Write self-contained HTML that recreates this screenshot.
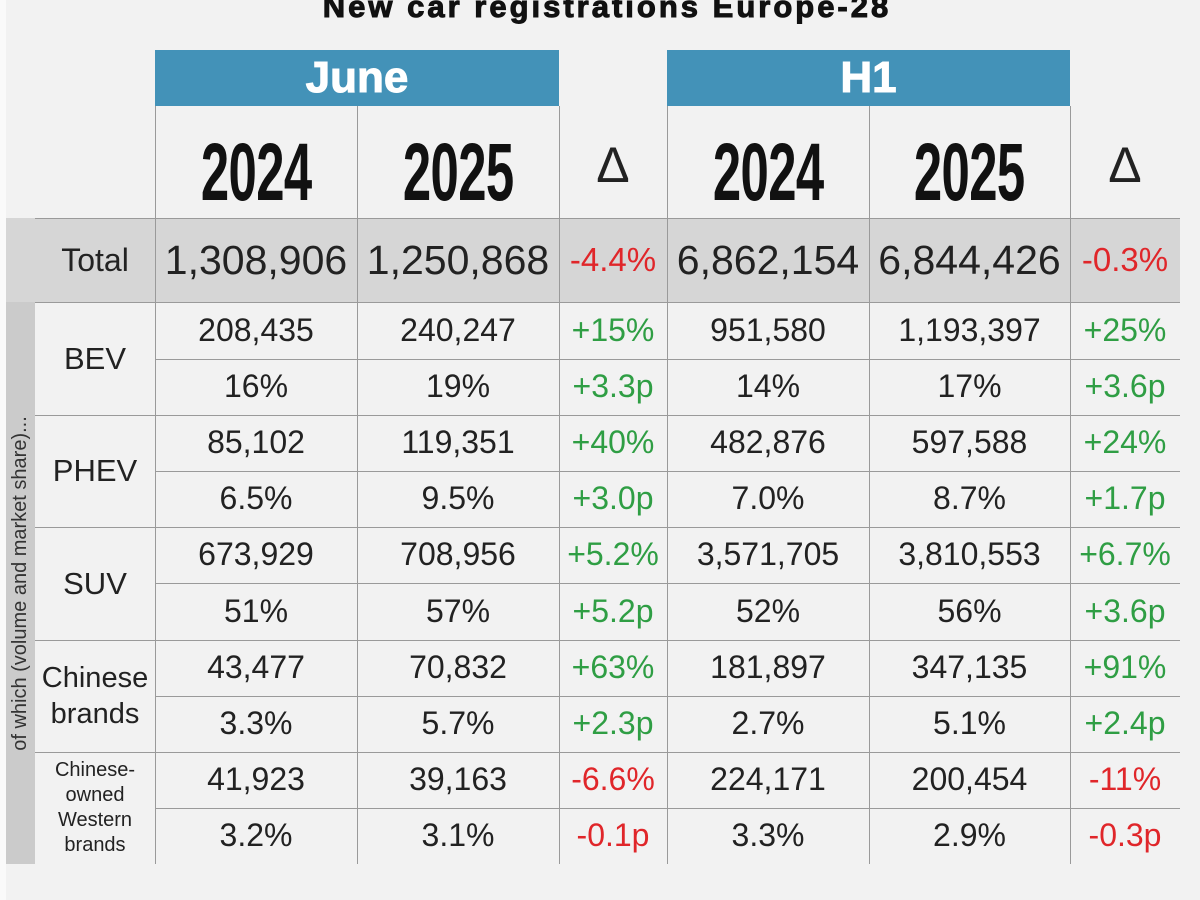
<!DOCTYPE html>
<html><head><style>
body{margin:0;width:1200px;height:900px;background:#f2f2f2;position:relative;overflow:hidden;font-family:"Liberation Sans",sans-serif;}
.a{position:absolute;}
.c{position:absolute;display:flex;align-items:center;justify-content:center;text-align:center;color:#222;font-size:32px;font-weight:300;}
.r{color:#e0262a}.g{color:#2f9e44}
.hl{position:absolute;height:1px;background:#9a9a9a}
.vl{position:absolute;width:1px;background:#9a9a9a}
.yr{font-family:"Liberation Sans Narrow","Liberation Sans",sans-serif;font-weight:bold;font-size:82px;color:#111;transform:scaleX(0.62);letter-spacing:-1px;display:inline-block;margin-top:22px}
</style></head><body>
<div class="a" style="left:0;top:0;width:6px;height:900px;background:#fafafa"></div>
<div class="a" style="left:0;top:-11px;width:1214px;text-align:center;font-weight:900;font-size:31px;color:#111;letter-spacing:3px;-webkit-text-stroke:1px #111">New car registrations Europe-28</div>
<div class="c" style="left:155px;top:50px;width:404px;height:56px;background:#4392b8;color:#fff;font-weight:bold;font-size:44px;-webkit-text-stroke:1px #fff">June</div>
<div class="c" style="left:667px;top:50px;width:403px;height:56px;background:#4392b8;color:#fff;font-weight:bold;font-size:44px;-webkit-text-stroke:1px #fff">H1</div>
<div class="c" style="left:155px;top:106px;width:202px;height:112px"><span class="yr">2024</span></div>
<div class="c" style="left:357px;top:106px;width:202px;height:112px"><span class="yr">2025</span></div>
<div class="c" style="left:559px;top:106px;width:108px;height:112px;font-size:50px;padding-top:6px;box-sizing:border-box">Δ</div>
<div class="c" style="left:667px;top:106px;width:202px;height:112px"><span class="yr">2024</span></div>
<div class="c" style="left:869px;top:106px;width:201px;height:112px"><span class="yr">2025</span></div>
<div class="c" style="left:1070px;top:106px;width:110px;height:112px;font-size:50px;padding-top:6px;box-sizing:border-box">Δ</div>
<div class="a" style="left:6px;top:218px;width:1174px;height:84px;background:#d6d6d6"></div>
<div class="a" style="left:6px;top:302px;width:29px;height:562px;background:#cbcbcb"></div>
<div class="a" style="left:6px;top:302px;width:29px;height:562px;display:flex;align-items:center;justify-content:center"><div style="transform:rotate(-90deg);white-space:nowrap;font-size:20px;color:#333;font-weight:300">of which (volume and market share)...</div></div>
<div class="vl" style="left:155px;top:106px;height:758px"></div>
<div class="vl" style="left:357px;top:106px;height:758px"></div>
<div class="vl" style="left:559px;top:106px;height:758px"></div>
<div class="vl" style="left:667px;top:106px;height:758px"></div>
<div class="vl" style="left:869px;top:106px;height:758px"></div>
<div class="vl" style="left:1070px;top:106px;height:758px"></div>
<div class="hl" style="left:35px;top:218px;width:1145px"></div>
<div class="hl" style="left:35px;top:302px;width:1145px"></div>
<div class="hl" style="left:155px;top:359px;width:1025px"></div>
<div class="hl" style="left:35px;top:415px;width:1145px"></div>
<div class="hl" style="left:155px;top:471px;width:1025px"></div>
<div class="hl" style="left:35px;top:527px;width:1145px"></div>
<div class="hl" style="left:155px;top:583px;width:1025px"></div>
<div class="hl" style="left:35px;top:640px;width:1145px"></div>
<div class="hl" style="left:155px;top:696px;width:1025px"></div>
<div class="hl" style="left:35px;top:752px;width:1145px"></div>
<div class="hl" style="left:155px;top:808px;width:1025px"></div>
<div class="c" style="left:35px;top:218px;width:120px;height:84px;font-size:32px">Total</div>
<div class="c" style="left:35px;top:302px;width:120px;height:113px;font-size:31px">BEV</div>
<div class="c" style="left:35px;top:415px;width:120px;height:112px;font-size:31px">PHEV</div>
<div class="c" style="left:35px;top:527px;width:120px;height:113px;font-size:31px">SUV</div>
<div class="c" style="left:35px;top:640px;width:120px;height:112px;font-size:29px;line-height:36px">Chinese<br>brands</div>
<div class="c" style="left:35px;top:752px;width:120px;height:112px;font-size:20px;line-height:25px">Chinese-<br>owned<br>Western<br>brands</div>
<div class="c" style="left:155px;top:218px;width:202px;height:84px;font-size:41px">1,308,906</div>
<div class="c" style="left:357px;top:218px;width:202px;height:84px;font-size:41px">1,250,868</div>
<div class="c r" style="left:559px;top:218px;width:108px;height:84px;font-size:33px">-4.4%</div>
<div class="c" style="left:667px;top:218px;width:202px;height:84px;font-size:41px">6,862,154</div>
<div class="c" style="left:869px;top:218px;width:201px;height:84px;font-size:41px">6,844,426</div>
<div class="c r" style="left:1070px;top:218px;width:110px;height:84px;font-size:33px">-0.3%</div>
<div id="rows"></div>
<script>
var d=[
["208,435","240,247","+15%","951,580","1,193,397","+25%"],
["16%","19%","+3.3p","14%","17%","+3.6p"],
["85,102","119,351","+40%","482,876","597,588","+24%"],
["6.5%","9.5%","+3.0p","7.0%","8.7%","+1.7p"],
["673,929","708,956","+5.2%","3,571,705","3,810,553","+6.7%"],
["51%","57%","+5.2p","52%","56%","+3.6p"],
["43,477","70,832","+63%","181,897","347,135","+91%"],
["3.3%","5.7%","+2.3p","2.7%","5.1%","+2.4p"],
["41,923","39,163","-6.6%","224,171","200,454","-11%"],
["3.2%","3.1%","-0.1p","3.3%","2.9%","-0.3p"]];
var xs=[155,357,559,667,869,1070,1180],h="";
for(var i=0;i<10;i++){var t=302+i*56.2;for(var j=0;j<6;j++){var v=d[i][j],cl="";if(j==2||j==5)cl=v[0]=="-"?" r":" g";
h+='<div class="c'+cl+'" style="left:'+xs[j]+'px;top:'+t+'px;width:'+(xs[j+1]-xs[j])+'px;height:56px">'+v+'</div>';}}
document.getElementById("rows").innerHTML=h;
</script>
</body></html>
